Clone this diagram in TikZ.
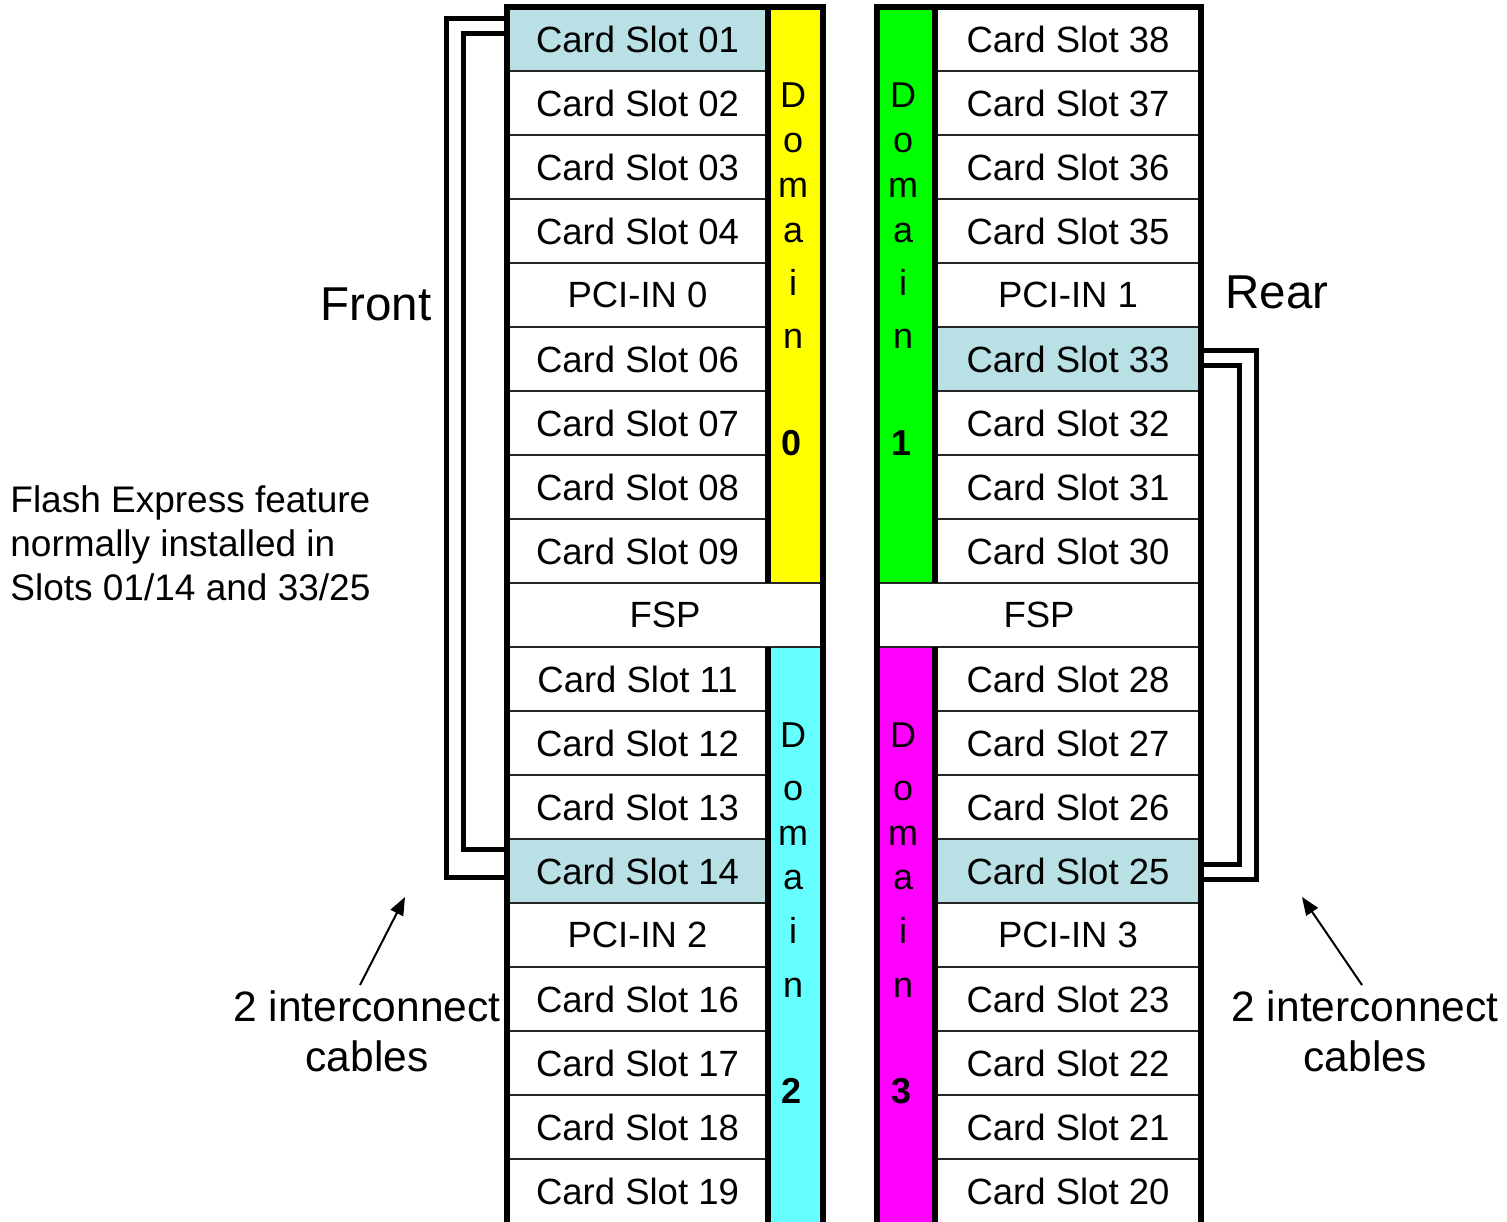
\documentclass[tikz,border=0pt]{standalone}
\usepackage{fontspec}
\setmainfont{Liberation Sans}
\usetikzlibrary{arrows.meta}
\definecolor{hl}{RGB}{185,224,228}
\definecolor{dyel}{RGB}{255,255,0}
\definecolor{dgrn}{RGB}{0,255,0}
\definecolor{dcyn}{RGB}{102,255,255}
\definecolor{dmag}{RGB}{255,0,255}
\begin{document}
\begin{tikzpicture}[x=0.5pt,y=-0.5pt,
  cell/.style={draw=black!85, line width=1pt, minimum height=32pt, inner sep=0pt, outer sep=0pt,
    font=\fontsize{18.25}{22}\selectfont},
  lcell/.style={cell, minimum width=130.5pt},
  rcell/.style={cell, minimum width=133pt},
  hlcell/.style={fill=hl},
  plain/.style={fill=white},
  border/.style={line width=3pt},
  cable/.style={line width=2.5pt},
  dom/.style={inner sep=0pt, anchor=base, font=\fontsize{18}{21}\selectfont},
  domnum/.style={inner sep=0pt, anchor=base, font=\fontsize{18}{21}\selectfont\bfseries},
  lbl/.style={inner sep=0pt},
  pointer/.style={line width=1pt, -{Triangle[length=9pt,width=7pt]}}
]
\useasboundingbox (0,0) rectangle (1507,1221);
\clip (0,0) rectangle (1507,1221);
\fill[white] (0,0) rectangle (1507,1221);

% domain strips
\fill[dyel] (768,7) rectangle (823,583);
\fill[dcyn] (768,647) rectangle (823,1230);
\fill[dgrn] (877,7) rectangle (935,583);
\fill[dmag] (877,647) rectangle (935,1230);

% left cells
\foreach \i/\t/\s in {1/Card Slot 01/hlcell, 2/Card Slot 02/plain, 3/Card Slot 03/plain,
  4/Card Slot 04/plain, 5/PCI-IN 0/plain, 6/Card Slot 06/plain, 7/Card Slot 07/plain,
  8/Card Slot 08/plain, 9/Card Slot 09/plain, 11/Card Slot 11/plain, 12/Card Slot 12/plain,
  13/Card Slot 13/plain, 14/Card Slot 14/hlcell, 15/PCI-IN 2/plain, 16/Card Slot 16/plain,
  17/Card Slot 17/plain, 18/Card Slot 18/plain, 19/Card Slot 19/plain}
  \node[lcell, \s] (L\i) at (637.5, {39+64*(\i-1)}) {\t};
\node[cell, plain, minimum width=158pt] (L10) at (665,615) {FSP};

% right cells
\foreach \i/\t/\s in {1/Card Slot 38/plain, 2/Card Slot 37/plain, 3/Card Slot 36/plain,
  4/Card Slot 35/plain, 5/PCI-IN 1/plain, 6/Card Slot 33/hlcell, 7/Card Slot 32/plain,
  8/Card Slot 31/plain, 9/Card Slot 30/plain, 11/Card Slot 28/plain, 12/Card Slot 27/plain,
  13/Card Slot 26/plain, 14/Card Slot 25/hlcell, 15/PCI-IN 3/plain, 16/Card Slot 23/plain,
  17/Card Slot 22/plain, 18/Card Slot 21/plain, 19/Card Slot 20/plain}
  \node[rcell, \s] (R\i) at (1068, {39+64*(\i-1)}) {\t};
\node[cell, plain, minimum width=162pt] (R10) at (1039,615) {FSP};

% thick borders
\draw[border] (507,7) rectangle (823,1240);
\draw[border] (768,7) -- (768,583) (768,647) -- (768,1240);
\draw[border] (877,7) rectangle (1201,1240);
\draw[border] (935,7) -- (935,583) (935,647) -- (935,1240);

% domain labels
\foreach \ch/\yy in {D/107,o/152,m/197,a/242,i/295,n/348}{
  \node[dom] (dz\ch) at (793,\yy) {\ch};
  \node[dom] (dy\ch) at (903,\yy) {\ch};
}
\node[domnum] (dznum) at (791,455) {0};
\node[domnum] (dynum) at (901,455) {1};
\foreach \ch/\yy in {D/747,o/800,m/845,a/889,i/943,n/997}{
  \node[dom] (dx\ch) at (793,\yy) {\ch};
  \node[dom] (dw\ch) at (903,\yy) {\ch};
}
\node[domnum] (dxnum) at (791,1103) {2};
\node[domnum] (dwnum) at (901,1103) {3};

% cables
\draw[cable] ([yshift=10.5pt]L1.west) -- ++(-30.5pt,0) |- ([yshift=-3pt]L14.west);
\draw[cable] ([yshift=3pt]L1.west) -- ++(-22pt,0) |- ([yshift=11pt]L14.west);
\draw[cable] ([yshift=4.5pt]R6.east) -- ++(27.5pt,0) |- ([yshift=-4pt]R14.east);
\draw[cable] ([yshift=-3pt]R6.east) -- ++(19pt,0) |- ([yshift=3.5pt]R14.east);

% labels
\node[lbl, anchor=base east, font=\fontsize{23.75}{28}\selectfont] (front) at (432,320) {Front};
\node[lbl, anchor=base west, font=\fontsize{23.75}{28}\selectfont] (rear) at (1225,308) {Rear};
\node[lbl, anchor=north west, align=left, font=\fontsize{18.5}{22}\selectfont] (flash) at (10,485)
  {Flash Express feature\\normally installed in\\Slots 01/14 and 33/25};
\node[lbl, anchor=north, align=center, font=\fontsize{21.25}{25}\selectfont] (icl) at (367,990)
  {2 interconnect\\cables};
\node[lbl, anchor=north, align=center, font=\fontsize{21.25}{25}\selectfont] (icr) at (1365,990)
  {2 interconnect\\cables};

% pointers
\coordinate (la0) at (360,985);
\coordinate (la1) at (405,897);
\coordinate (ra0) at (1362,985);
\coordinate (ra1) at (1302,897);
\draw[pointer] (la0) -- (la1);
\draw[pointer] (ra0) -- (ra1);
\end{tikzpicture}
\end{document}
